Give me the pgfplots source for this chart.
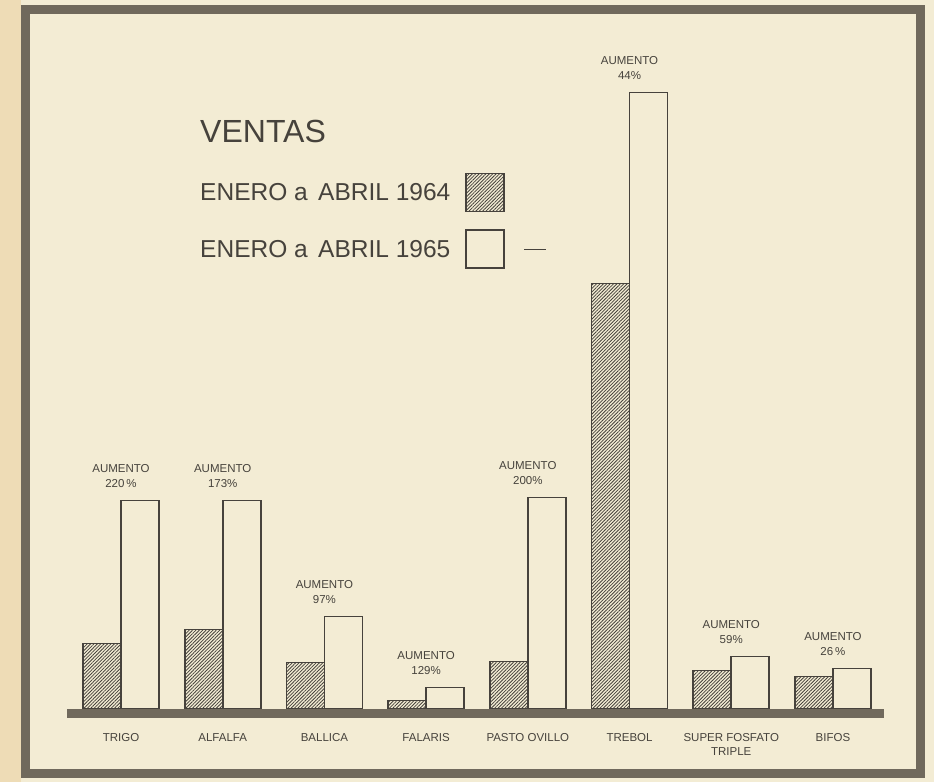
\documentclass[border=0pt]{standalone}
\usepackage{fontspec}
\setmainfont{Liberation Sans}
\usepackage{pgfplots}
\pgfplotsset{compat=1.18}
\usetikzlibrary{patterns,patterns.meta}
\definecolor{paper}{RGB}{243,236,212}
\definecolor{paperedge}{RGB}{238,220,182}
\definecolor{ink}{RGB}{70,66,60}
\definecolor{frame}{RGB}{112,105,92}
\begin{document}
\begin{tikzpicture}
\fill[paper] (-67pt,-69pt) rectangle (867pt,713pt);
\fill[paperedge] (-67pt,-69pt) rectangle (-46pt,713pt);
\begin{axis}[
  at={(0pt,0pt)}, anchor=south west,
  scale only axis, width=817pt, height=704.5pt,
  xmin=-0.531, xmax=7.502, ymin=-4.5, ymax=700,
  axis x line*=bottom, axis y line=none,
  x axis line style={line width=9pt, draw=frame, -},
  ytick=\empty, xtick={0,...,7},
  major tick length=0pt,
  xticklabels={TRIGO,ALFALFA,BALLICA,FALARIS,PASTO OVILLO,TREBOL,SUPER FOSFATO\\TRIPLE,BIFOS},
  xticklabel style={align=center, font=\fontsize{11.5}{14}\selectfont, text=ink, yshift=-17pt},
  clip=false,
  legend plot pos=right,
  legend cell align=left,
  legend style={draw=none, fill=none, inner sep=0pt, at={(axis cs:0.777,536)}, anchor=north west,
    font=\fontsize{24.5}{25}\selectfont, text=ink, row sep=17pt, column sep=15pt,
    nodes={inner sep=0pt}},
]
\addlegendimage{legend image code/.code={\draw[draw=ink, line width=1.8pt, pattern={Lines[angle=45,distance=2.4pt,line width=0.8pt]}, pattern color=ink] (0pt,-19pt) rectangle (38pt,19pt);}}
\addlegendentry{ENERO a\hspace{0.15em} ABRIL 1964}
\addlegendimage{legend image code/.code={\draw[draw=ink, line width=1.8pt] (0pt,-19pt) rectangle (38pt,19pt); \draw[ink, line width=1.2pt] (58pt,0pt) -- (80pt,0pt);}}
\addlegendentry{ENERO a\hspace{0.15em} ABRIL 1965}

\addplot[ybar, bar width=38pt, bar shift=-19pt, draw=ink, line width=1.8pt,
  pattern={Lines[angle=45,distance=2.4pt,line width=0.8pt]}, pattern color=ink, forget plot]
  coordinates {(0,65) (1,79) (2,46) (3,8) (4,47) (5,425) (6,38) (7,32)};
\addplot[ybar, bar width=38pt, bar shift=19pt, draw=ink, fill=paper, line width=1.8pt, forget plot,
  nodes near coords, point meta=explicit symbolic,
  every node near coord/.append style={align=center, font=\fontsize{11.5}{15}\selectfont, text=ink, anchor=south, yshift=9pt}]
  coordinates {(0,208) [AUMENTO\\220\,\%] (1,208) [AUMENTO\\173\%] (2,92) [AUMENTO\\97\%] (3,21) [AUMENTO\\129\%]
               (4,211) [AUMENTO\\200\%] (5,616) [AUMENTO\\44\%] (6,52) [AUMENTO\\59\%] (7,40) [AUMENTO\\26\,\%]};
\node[anchor=base west, inner sep=0pt, font=\fontsize{32}{32}\selectfont, text=ink] at (axis cs:0.777,565.5) {VENTAS};
\end{axis}
\draw[frame, line width=9pt] (-41.5pt,-60.5pt) rectangle (853.5pt,703pt);
\end{tikzpicture}
\end{document}
